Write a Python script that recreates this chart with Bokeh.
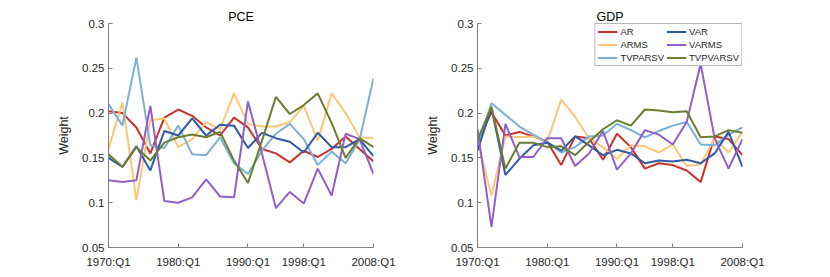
from bokeh.plotting import figure
from bokeh.layouts import row
from bokeh.models import Legend, LegendItem, FixedTicker
from bokeh.embed import file_html
from bokeh.resources import INLINE

years = [1970, 1972, 1974, 1976, 1978, 1980, 1982, 1984, 1986, 1988,
         1990, 1992, 1994, 1996, 1998, 2000, 2002, 2004, 2006, 2008]
x_ticks = [1970, 1980, 1990, 1998, 2008]
x_tick_labels = ["1970:Q1", "1980:Q1", "1990:Q1", "1998:Q1", "2008:Q1"]
y_ticks = [0.05, 0.1, 0.15, 0.2, 0.25, 0.3]
y_tick_labels = ["0.05", "0.1", "0.15", "0.2", "0.25", "0.3"]

series_names = ["AR", "ARMS", "TVPARSV", "VAR", "VARMS", "TVPVARSV"]
series_colors = ["#C9312B", "#FDC776", "#7BB0D8", "#2F5AA6", "#9160C6", "#6B7E30"]

pce_ar = [0.202, 0.200, 0.184, 0.155, 0.195, 0.204, 0.197, 0.184, 0.175, 0.195,
          0.184, 0.160, 0.155, 0.145, 0.158, 0.151, 0.160, 0.174, 0.160, 0.146]
pce_arms = [0.160, 0.212, 0.103, 0.192, 0.194, 0.162, 0.171, 0.190, 0.182, 0.222,
            0.188, 0.185, 0.185, 0.190, 0.208, 0.169, 0.222, 0.200, 0.173, 0.172]
pce_tvparsv = [0.210, 0.186, 0.262, 0.164, 0.161, 0.186, 0.154, 0.153, 0.173, 0.144,
               0.132, 0.158, 0.177, 0.188, 0.171, 0.142, 0.157, 0.144, 0.170, 0.239]
pce_var = [0.150, 0.140, 0.163, 0.136, 0.180, 0.175, 0.194, 0.175, 0.187, 0.186,
           0.161, 0.178, 0.172, 0.168, 0.156, 0.178, 0.162, 0.162, 0.171, 0.152]
pce_varms = [0.125, 0.123, 0.125, 0.208, 0.102, 0.100, 0.106, 0.126, 0.107, 0.106,
             0.213, 0.155, 0.094, 0.112, 0.099, 0.138, 0.108, 0.177, 0.171, 0.132]
pce_tvpvarsv = [0.154, 0.140, 0.162, 0.147, 0.167, 0.173, 0.176, 0.173, 0.179, 0.147,
                0.122, 0.169, 0.218, 0.199, 0.209, 0.222, 0.189, 0.150, 0.172, 0.162]

gdp_ar = [0.168, 0.201, 0.175, 0.179, 0.174, 0.168, 0.142, 0.174, 0.172, 0.148,
          0.177, 0.162, 0.138, 0.144, 0.142, 0.136, 0.123, 0.174, 0.171, 0.153]
gdp_arms = [0.170, 0.108, 0.174, 0.173, 0.174, 0.168, 0.215, 0.196, 0.172, 0.162,
            0.149, 0.164, 0.163, 0.156, 0.165, 0.141, 0.143, 0.172, 0.156, 0.179]
gdp_tvparsv = [0.164, 0.211, 0.198, 0.185, 0.176, 0.168, 0.156, 0.162, 0.174, 0.175,
               0.188, 0.181, 0.173, 0.180, 0.186, 0.190, 0.165, 0.164, 0.176, 0.184]
gdp_var = [0.158, 0.206, 0.131, 0.149, 0.164, 0.167, 0.158, 0.174, 0.164, 0.153,
           0.159, 0.155, 0.144, 0.147, 0.146, 0.148, 0.144, 0.155, 0.179, 0.140]
gdp_varms = [0.182, 0.073, 0.188, 0.151, 0.151, 0.172, 0.172, 0.141, 0.155, 0.180,
             0.137, 0.155, 0.181, 0.176, 0.165, 0.190, 0.255, 0.172, 0.138, 0.171]
gdp_tvpvarsv = [0.170, 0.207, 0.138, 0.167, 0.167, 0.162, 0.163, 0.153, 0.168, 0.182,
                0.192, 0.186, 0.204, 0.203, 0.201, 0.202, 0.173, 0.174, 0.181, 0.178]

pce_series = [pce_ar, pce_arms, pce_tvparsv, pce_var, pce_varms, pce_tvpvarsv]
gdp_series = [gdp_ar, gdp_arms, gdp_tvparsv, gdp_var, gdp_varms, gdp_tvpvarsv]

FONT = "Liberation Sans"
AXIS_COLOR = "#808080"
TEXT_COLOR = "#262626"


def make_panel(title, series, border_left, border_right, with_legend):
    p = figure(frame_width=265, frame_height=224,
               min_border_left=border_left, min_border_right=border_right,
               min_border_top=23, min_border_bottom=28,
               x_range=(1970, 2008), y_range=(0.05, 0.3),
               output_backend="svg", toolbar_location=None,
               title=title)
    p.title.align = "center"
    p.title.text_font = FONT
    p.title.text_font_size = "12.5px"
    p.title.text_font_style = "normal"
    p.title.text_color = "#000000"
    p.title.standoff = 0
    p.outline_line_color = None
    p.grid.visible = False
    p.background_fill_color = "white"
    p.border_fill_color = "white"

    for ax in (p.xaxis[0], p.yaxis[0]):
        ax.axis_line_color = AXIS_COLOR
        ax.major_tick_line_color = AXIS_COLOR
        ax.major_tick_in = 4
        ax.major_tick_out = 0
        ax.minor_tick_line_color = None
        ax.major_label_text_font = FONT
        ax.major_label_text_font_size = "11.5px"
        ax.major_label_text_color = TEXT_COLOR
    p.xaxis.ticker = FixedTicker(ticks=x_ticks)
    p.xaxis.major_label_overrides = dict(zip(x_ticks, x_tick_labels))
    p.xaxis.major_label_standoff = 8
    p.yaxis.ticker = FixedTicker(ticks=y_ticks)
    p.yaxis.major_label_overrides = dict(zip(y_ticks, y_tick_labels))
    p.yaxis.major_label_standoff = 4
    p.yaxis.axis_label = "Weight"
    p.yaxis.axis_label_text_font = FONT
    p.yaxis.axis_label_text_font_size = "12.5px"
    p.yaxis.axis_label_text_font_style = "normal"
    p.yaxis.axis_label_text_color = TEXT_COLOR
    p.yaxis.axis_label_standoff = 8

    renderers = []
    for vals, color in zip(series, series_colors):
        r = p.line(years, vals, line_color=color, line_width=2)
        renderers.append(r)

    if with_legend:
        items = [LegendItem(label=n, renderers=[r]) for n, r in zip(series_names, renderers)]
        leg = Legend(items=items, location="top_right", ncols=2,
                     label_text_font=FONT, label_text_font_size="9.5px",
                     label_text_color=TEXT_COLOR,
                     glyph_width=20, glyph_height=9, label_height=9,
                     label_standoff=3, spacing=2, padding=2, margin=0,
                     border_line_color="#6f6f6f", border_line_width=1,
                     background_fill_alpha=1.0)
        p.add_layout(leg, "center")
    return p


p1 = make_panel("PCE", pce_series, 108, 50, False)
p2 = make_panel("GDP", gdp_series, 50, 40, True)

layout = row(p1, p2)
open("out.html", "w").write(file_html(layout, INLINE))
